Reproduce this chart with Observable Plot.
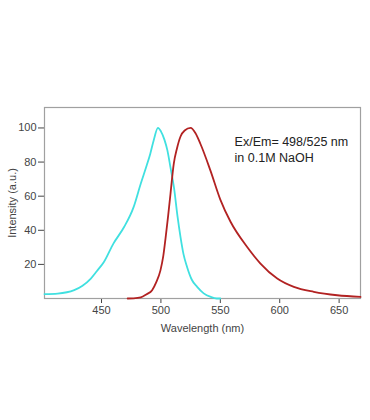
<!DOCTYPE html>
<html><head><meta charset="utf-8">
<script src="https://cdn.jsdelivr.net/npm/d3@7"></script>
<script src="https://cdn.jsdelivr.net/npm/@observablehq/plot@0.6"></script>
<style>body{margin:0;background:#fff;font-family:Arial,"Liberation Sans",sans-serif}</style>
</head><body><div id="chart"></div>
<script>
const exWavelength = [402,413,427,434,441,446,452,460,469,477,483,488,491,494,497.5,500,503,505.5,508,511,514,516.5,519,522,526,530.5,536,542,547,550];
const exIntensity  = [2.6,2.9,4.9,7.5,11.7,16,21.4,32.2,41.9,53.6,67.3,78,84.8,93,100,98,93,86.7,77,65,48,36,26,18.5,11,6.8,3,0.9,0,0];
const emWavelength = [472,477,483,488,492.6,496,499.6,502,504,506,508,510.8,513.5,516.5,520,525,529,533.3,541.7,550,558.6,572.6,583.8,597.9,611.9,628.7,648.4,668];
const emIntensity  = [0,0.1,0.6,2.5,4.9,9.5,16.5,25,36,48,61,79,88,95,98.5,100,97,90.6,75,58,45,30.2,20.5,11.7,6.8,3.9,1.9,0.9];
const xTicks = [450,500,550,600,650];
const yTicks = [20,40,60,80,100];
const annotation = ["Ex/Em= 498/525 nm\nin 0.1M NaOH"];

const ex = exWavelength.map((w,i)=>({w, v: exIntensity[i]}));
const em = emWavelength.map((w,i)=>({w, v: emIntensity[i]}));

const chart = Plot.plot({
  width: 370, height: 420,
  marginLeft: 44, marginRight: 10, marginTop: 107, marginBottom: 122,
  style: {fontFamily: "Arial, 'Liberation Sans', sans-serif", fontSize: "11px", color: "#444", background: "#fff"},
  x: {domain: [402, 668], ticks: xTicks, tickSize: 5, tickPadding: 3, label: "Wavelength (nm)", labelAnchor: "center", labelOffset: 33, labelArrow: "none"},
  y: {domain: [0, 112], ticks: yTicks, tickSize: 6, tickPadding: 2, label: "Intensity (a.u.)", labelAnchor: "center", labelOffset: 36, labelArrow: "none"},
  marks: [
    Plot.frame({stroke: "#a0a0a0", strokeWidth: 1.2}),
    Plot.line(ex, {x: "w", y: "v", stroke: "#40e0e0", strokeWidth: 1.8, curve: "monotone-x"}),
    Plot.line(em, {x: "w", y: "v", stroke: "#b22222", strokeWidth: 1.8, curve: "monotone-x"}),
    Plot.text(annotation, {x: 562, y: 88, text: d => d, textAnchor: "start", lineAnchor: "middle", fontSize: 12.5, fill: "#222", lineHeight: 1.3})
  ]
});
document.getElementById("chart").append(chart);
</script>
</body></html>
